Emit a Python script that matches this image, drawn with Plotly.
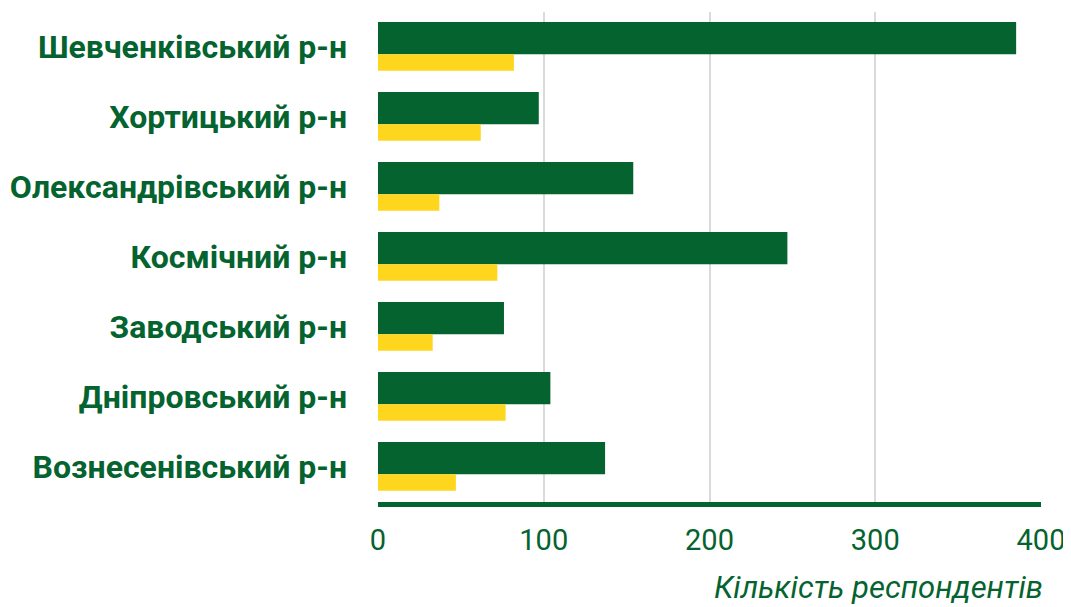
import plotly.graph_objects as go

districts = ["Шевченківський р-н", "Хортицький р-н", "Олександрівський р-н",
             "Космічний р-н", "Заводський р-н", "Дніпровський р-н", "Вознесенівський р-н"]
series_green = [385, 97, 154, 247, 76, 104, 137]
series_yellow = [82, 62, 37, 72, 33, 77, 47]
x_ticks = [0, 100, 200, 300, 400]
axis_title = "Кількість респондентів"

GREEN = "#05632F"
YELLOW = "#FFD61E"

fig = go.Figure()
fig.add_trace(go.Bar(y=districts, x=series_green, orientation="h",
                     marker=dict(color=GREEN, line=dict(width=0)),
                     width=0.46, offset=-0.357, showlegend=False))
fig.add_trace(go.Bar(y=districts, x=series_yellow, orientation="h",
                     marker=dict(color=YELLOW, line=dict(width=0)),
                     width=0.235, offset=0.103, showlegend=False))

# page body has an 8px default margin, so the figure is sized/offset to compensate
fig.update_layout(
    width=1063, height=599,
    margin=dict(l=370, r=30, t=4, b=105, autoexpand=False),
    barmode="overlay",
    plot_bgcolor="white", paper_bgcolor="white",
    font=dict(family="Roboto", color=GREEN),
    xaxis=dict(range=[0, 400], tickvals=x_ticks, showgrid=True,
               gridcolor="#DADADA", gridwidth=2, zeroline=False,
               showline=True, linecolor=GREEN, linewidth=5,
               tickfont=dict(family="Roboto", size=29, color=GREEN),
               ticklabelstandoff=8, automargin=False, fixedrange=True),
    yaxis=dict(autorange="reversed", showgrid=False, zeroline=False,
               tickfont=dict(family="Roboto", size=32, color=GREEN, weight="bold"),
               ticklabelstandoff=30, automargin=False, fixedrange=True),
    annotations=[dict(text=axis_title, xref="paper", yref="paper",
                      x=1.006, y=-0.1735, xanchor="right", yanchor="middle",
                      showarrow=False,
                      font=dict(family="Roboto", size=31, color=GREEN, style="italic"))],
)

fig.write_html("out.html")
